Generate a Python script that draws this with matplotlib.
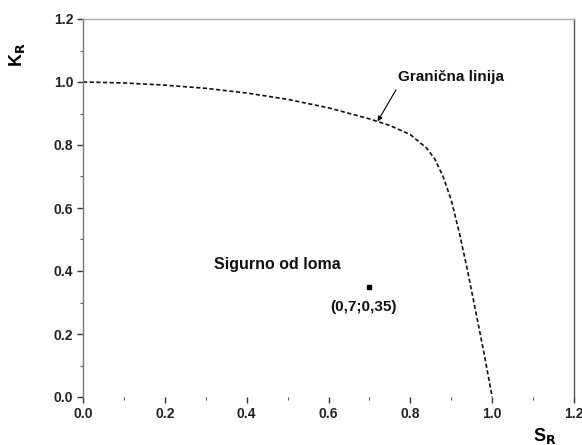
import matplotlib
matplotlib.use("Agg")
import matplotlib.pyplot as plt
from matplotlib.ticker import MultipleLocator, FormatStrFormatter

plt.rcParams['font.family'] = ['Liberation Sans', 'DejaVu Sans']

# Boundary line data (S_R, K_R)
s_r = [0.0, 0.1, 0.2, 0.3, 0.4, 0.5, 0.6, 0.7, 0.75, 0.8, 0.84, 0.86, 0.88,
       0.90, 0.92, 0.94, 0.96, 0.98, 1.0]
k_r = [1.0, 0.997, 0.99, 0.98, 0.965, 0.945, 0.918, 0.883, 0.862, 0.833,
       0.79, 0.755, 0.70, 0.625, 0.52, 0.40, 0.27, 0.14, 0.0]

point_s = [0.7]
point_k = [0.35]

x_label = "S$_\\mathbf{R}$"
y_label = "K$_\\mathbf{R}$"
boundary_text = "Granična linija"
safe_text = "Sigurno od loma"
point_text = "(0,7;0,35)"

W, H = 582, 445
fig = plt.figure(figsize=(W / 100, H / 100), dpi=100)
ax = fig.add_axes([83 / W, 1 - 397 / H, (574 - 83) / W, (397 - 19) / H])

ax.plot(s_r, k_r, color='#111111', lw=1.2, ls=(0, (2.5, 1.5)))
ax.plot(point_s, point_k, 's', color='black', ms=2.5)

ax.set_xlim(0, 1.2)
ax.set_ylim(0, 1.2)
ax.xaxis.set_major_locator(MultipleLocator(0.2))
ax.xaxis.set_minor_locator(MultipleLocator(0.1))
ax.yaxis.set_major_locator(MultipleLocator(0.2))
ax.yaxis.set_minor_locator(MultipleLocator(0.1))
ax.xaxis.set_major_formatter(FormatStrFormatter('%.1f'))
ax.yaxis.set_major_formatter(FormatStrFormatter('%.1f'))

ax.tick_params(which='major', direction='out', length=4, width=1.0,
               color='#333333', labelsize=10, pad=3)
ax.tick_params(which='minor', direction='out', length=2, width=0.8,
               color='#555555')
for lab in ax.get_xticklabels() + ax.get_yticklabels():
    lab.set_fontweight('bold')
    lab.set_color('#222222')

ax.spines['bottom'].set_visible(False)
ax.spines['top'].set_color('#aaaaaa')
ax.spines['left'].set_color('#777777')
ax.spines['right'].set_color('#555555')
for sp in ax.spines.values():
    sp.set_linewidth(1.0)

fig.text(545 / W, 1 - 436 / H, x_label, fontsize=13, fontweight='bold',
         ha='center', va='center')
fig.text(17 / W, 1 - 55 / H, y_label, fontsize=13, fontweight='bold',
         ha='center', va='center', rotation=90)

ax.annotate('', xy=(0.72, 0.875), xytext=(0.765, 0.975),
            arrowprops=dict(arrowstyle='-|>', color='black', lw=0.8,
                            mutation_scale=7, shrinkA=0, shrinkB=0))
ax.text(0.77, 1.015, boundary_text, fontsize=11, fontweight='bold',
        ha='left', va='center', color='#111111')
ax.text(0.32, 0.42, safe_text, fontsize=11.5, fontweight='bold',
        ha='left', va='center', color='#111111')
ax.text(0.605, 0.285, point_text, fontsize=11, fontweight='bold',
        ha='left', va='center', color='#111111')

fig.savefig('out.png', dpi=100)
